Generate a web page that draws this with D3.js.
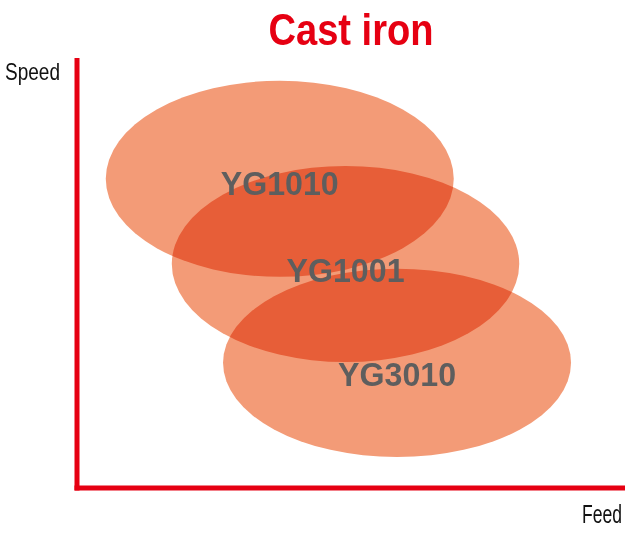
<!DOCTYPE html>
<html>
<head>
<meta charset="utf-8">
<script src="https://cdn.jsdelivr.net/npm/d3@7"></script>
<style>
  body { margin: 0; background: #fff; }
  svg { display: block; }
</style>
</head>
<body>
<div id="chart"></div>
<script>
// grades and where their working zones sit (feed / speed, 0-100 relative units)
const grades = ["YG1010", "YG1001", "YG3010"];
const feedCenter = [37.0, 49.0, 58.4];
const speedCenter = [71.9, 52.1, 29.1];
const feedSpread = [31.75, 31.7, 31.75];
const speedSpread = [22.8, 22.8, 21.9];
const labelSpeed = [68.1, 47.9, 23.7];

const width = 625, height = 533;
const margin = { top: 58, right: 0, bottom: 45, left: 77 };

const svg = d3.select("#chart").append("svg")
    .attr("width", width)
    .attr("height", height);

const x = d3.scaleLinear()
    .domain([0, 100])
    .range([margin.left, width - margin.right]);

const y = d3.scaleLinear()
    .domain([0, 100])
    .range([height - margin.bottom, margin.top]);

const data = grades.map((g, i) => ({
    grade: g,
    feed: feedCenter[i],
    speed: speedCenter[i],
    rf: feedSpread[i],
    rs: speedSpread[i],
    ls: labelSpeed[i]
}));

// zones, multiplied so the overlaps get darker
const zones = svg.append("g").style("isolation", "isolate");
zones.selectAll("ellipse")
    .data(data)
    .enter().append("ellipse")
    .attr("cx", d => x(d.feed))
    .attr("cy", d => y(d.speed))
    .attr("rx", d => x(d.rf) - x(0))
    .attr("ry", d => y(0) - y(d.rs))
    .attr("fill", "#f39b77")
    .style("mix-blend-mode", "multiply");

svg.append("g").selectAll("text")
    .data(data)
    .enter().append("text")
    .attr("x", d => x(d.feed))
    .attr("y", d => y(d.ls))
    .attr("text-anchor", "middle")
    .style("font-family", "'Liberation Sans', Arial, sans-serif")
    .style("font-weight", "bold")
    .style("font-size", "33px")
    .attr("textLength", 118)
    .attr("lengthAdjust", "spacingAndGlyphs")
    .attr("fill", "#5e5e5e")
    .text(d => d.grade);

// axes: plain red lines, no ticks
const red = "#e60012";
svg.append("line")
    .attr("x1", x(0)).attr("x2", x(0))
    .attr("y1", y(100)).attr("y2", y(0) + 2.5)
    .attr("stroke", red)
    .attr("stroke-width", 5);
svg.append("line")
    .attr("x1", x(0) - 2.5).attr("x2", x(100))
    .attr("y1", y(0)).attr("y2", y(0))
    .attr("stroke", red)
    .attr("stroke-width", 5);

// the original uses a condensed face, so squeeze to its widths
svg.append("text")
    .attr("x", 351)
    .attr("y", 45)
    .attr("text-anchor", "middle")
    .style("font-family", "'Liberation Sans', sans-serif")
    .style("font-weight", "bold")
    .style("font-size", "44px")
    .attr("textLength", 165)
    .attr("lengthAdjust", "spacingAndGlyphs")
    .attr("fill", red)
    .text("Cast iron");

svg.append("text")
    .attr("x", 5)
    .attr("y", 80)
    .style("font-family", "'Liberation Sans', sans-serif")
    .style("font-size", "24px")
    .attr("textLength", 55)
    .attr("lengthAdjust", "spacingAndGlyphs")
    .attr("fill", "#111")
    .text("Speed");

svg.append("text")
    .attr("x", 622)
    .attr("y", 523)
    .attr("text-anchor", "end")
    .style("font-family", "'Liberation Sans', sans-serif")
    .style("font-size", "26px")
    .attr("textLength", 40)
    .attr("lengthAdjust", "spacingAndGlyphs")
    .attr("fill", "#111")
    .text("Feed");
</script>
</body>
</html>
